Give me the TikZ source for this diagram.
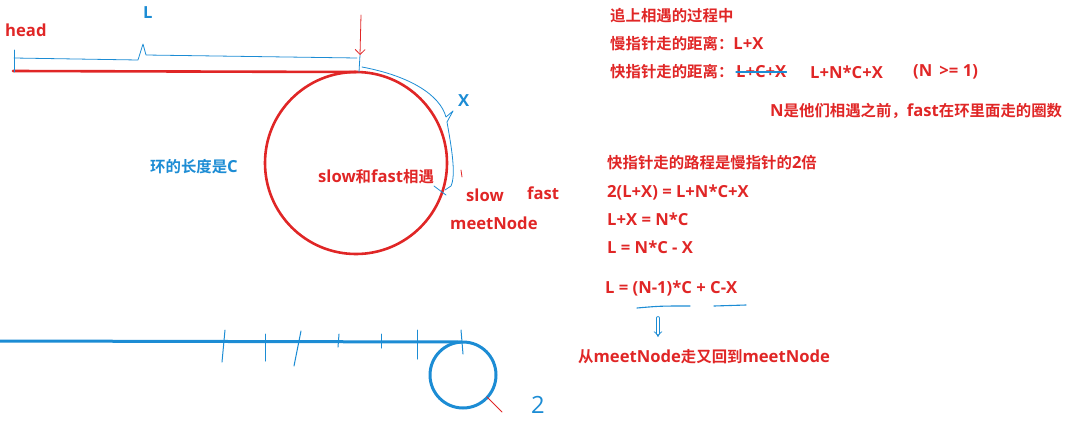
\documentclass[tikz,border=0pt]{standalone}
\usepackage{fontspec}
\setmainfont{Open Sans}[Scale=1.08]
\newfontfamily\cjk{Noto Sans CJK SC}[BoldFont={Noto Sans CJK SC Bold}]
\usetikzlibrary{arrows.meta,positioning}
\definecolor{penred}{RGB}{224,38,38}
\definecolor{penblue}{RGB}{28,140,212}
\tikzset{
  redtxt/.style={text=penred,font=\bfseries\fontsize{15.4}{17}\selectfont,inner sep=0pt,anchor=west},
  bluetxt/.style={text=penblue,font=\bfseries\fontsize{15.4}{17}\selectfont,inner sep=0pt,anchor=west},
  thinblue/.style={draw=penblue,line width=0.8pt},
  thickred/.style={draw=penred,line width=2.6pt},
  thickblue/.style={draw=penblue,line width=3pt}
}
\begin{document}
\begin{tikzpicture}[x=1pt,y=-1pt,line cap=round,line join=round]
\useasboundingbox (0,0) rectangle (1074,426);

% upper sketch: list with a loop
\coordinate (H) at (13,71);
\coordinate (J) at (356,72);
\coordinate (O) at (356,163);
\coordinate (M) at (441,190);

\draw[thickred] (H) -- (J);
\draw[thickred] (O) circle[radius=91];

% brace over L
\draw[thinblue] (14,50) -- (14,72);
\draw[thinblue] (14,58) -- (138,60) -- (143,44) -- (146,55) -- (357,58);
\draw[thinblue] (360,55) -- (359,72);
% brace over X
\draw[thinblue] (362,67) .. controls (410,76) and (440,95) .. (446,117)
  -- (453,111) -- (447,122) .. controls (452,150) and (456,175) .. (451,186) -- (445,190);
\draw[thinblue] (434,186) -- (446,195);

% arrow to the entry point
\coordinate (arrTop) at (361,15);
\coordinate (arrTip) at (360,55);
\draw[penred,line width=0.8pt,-{Straight Barb[length=5pt]}] (arrTop) -- (arrTip);
\draw[penred,line width=0.8pt] (461,170) -- (462,177);

\node[redtxt] (head) at (5,30) {head};
\node[bluetxt] (lenL) at (143,13) {L};
\node[bluetxt] (lenX) at (458,101) {X};
\node[bluetxt] (lenC) at (150,167) {{\cjk 环的长度是}C};
\node[redtxt] (meet) at (318,177) {slow{\cjk 和}fast{\cjk 相遇}};
\node[redtxt] (slow) at (466,195) {slow};
\node[redtxt] (fast) at (527,193) {fast};
\node[redtxt] (meetNode) at (450,223) {meetNode};

% right side: the reasoning
\node[redtxt] (t1) at (610,16) {\cjk 追上相遇的过程中};
\node[redtxt] (t2) at (610,44) {{\cjk 慢指针走的距离：}L+X};
\node[redtxt] (t3) at (610,72) {\cjk 快指针走的距离：};
\node[redtxt] (strk) at (736,72) {L+C+X};
\draw[thinblue,line width=1.2pt] (strk.west) -- (strk.east);
\node[redtxt] (t4) at (810,72) {L+N*C+X};
\node[redtxt] (t5) at (913,72) {(N \,>= 1)};
\node[redtxt] (t6) at (770,111) {N{\cjk 是他们相遇之前，}fast{\cjk 在环里面走的圈数}};
\node[redtxt] (t7) at (607,163) {{\cjk 快指针走的路程是慢指针的}2{\cjk 倍}};
\node[redtxt] (t8) at (607,192) {2(L+X) = L+N*C+X};
\node[redtxt] (t9) at (607,219) {L+X = N*C};
\node[redtxt] (t10) at (607,247) {L = N*C - X};
\node[redtxt] (t11) at (605,288) {L = (N-1)*C + C-X};
\draw[thinblue,line width=1.1pt] (637,308) .. controls (660,306) .. (690,306);
\draw[thinblue,line width=1.1pt] (714,306) .. controls (730,305) .. (746,305);
\node[redtxt] (t12) at (578,357) {{\cjk 从}meetNode{\cjk 走又回到}meetNode};
\coordinate (dArr) at (658,318);
\coordinate (dEnd) at (658,337);
\draw[penblue,line width=0.7pt,double distance=2.2pt,-{Implies}] (dArr) -- (dEnd);

% lower sketch: long tail, small loop
\coordinate (T0) at (0,341);
\coordinate (T1) at (461,342);
\coordinate (O2) at (463,375);
\draw[thickblue] (T0) -- (T1);
\draw[thickblue] (O2) circle[radius=33];
\foreach \xa/\ya/\xb/\yb in {225/330/222/362, 265/334/265/361, 301/331/294/366,
  339/334/338/347, 381/334/381/348, 417/330/417/359, 461/330/463/354}
  \draw[thinblue,line width=1pt] (\xa,\ya) -- (\xb,\yb);
\draw[penred,line width=0.8pt] (487,397) -- (502,412);
\node[text=penblue,font=\fontsize{22}{24}\selectfont,inner sep=0pt] (two) at (538,405) {2};
\end{tikzpicture}
\end{document}
